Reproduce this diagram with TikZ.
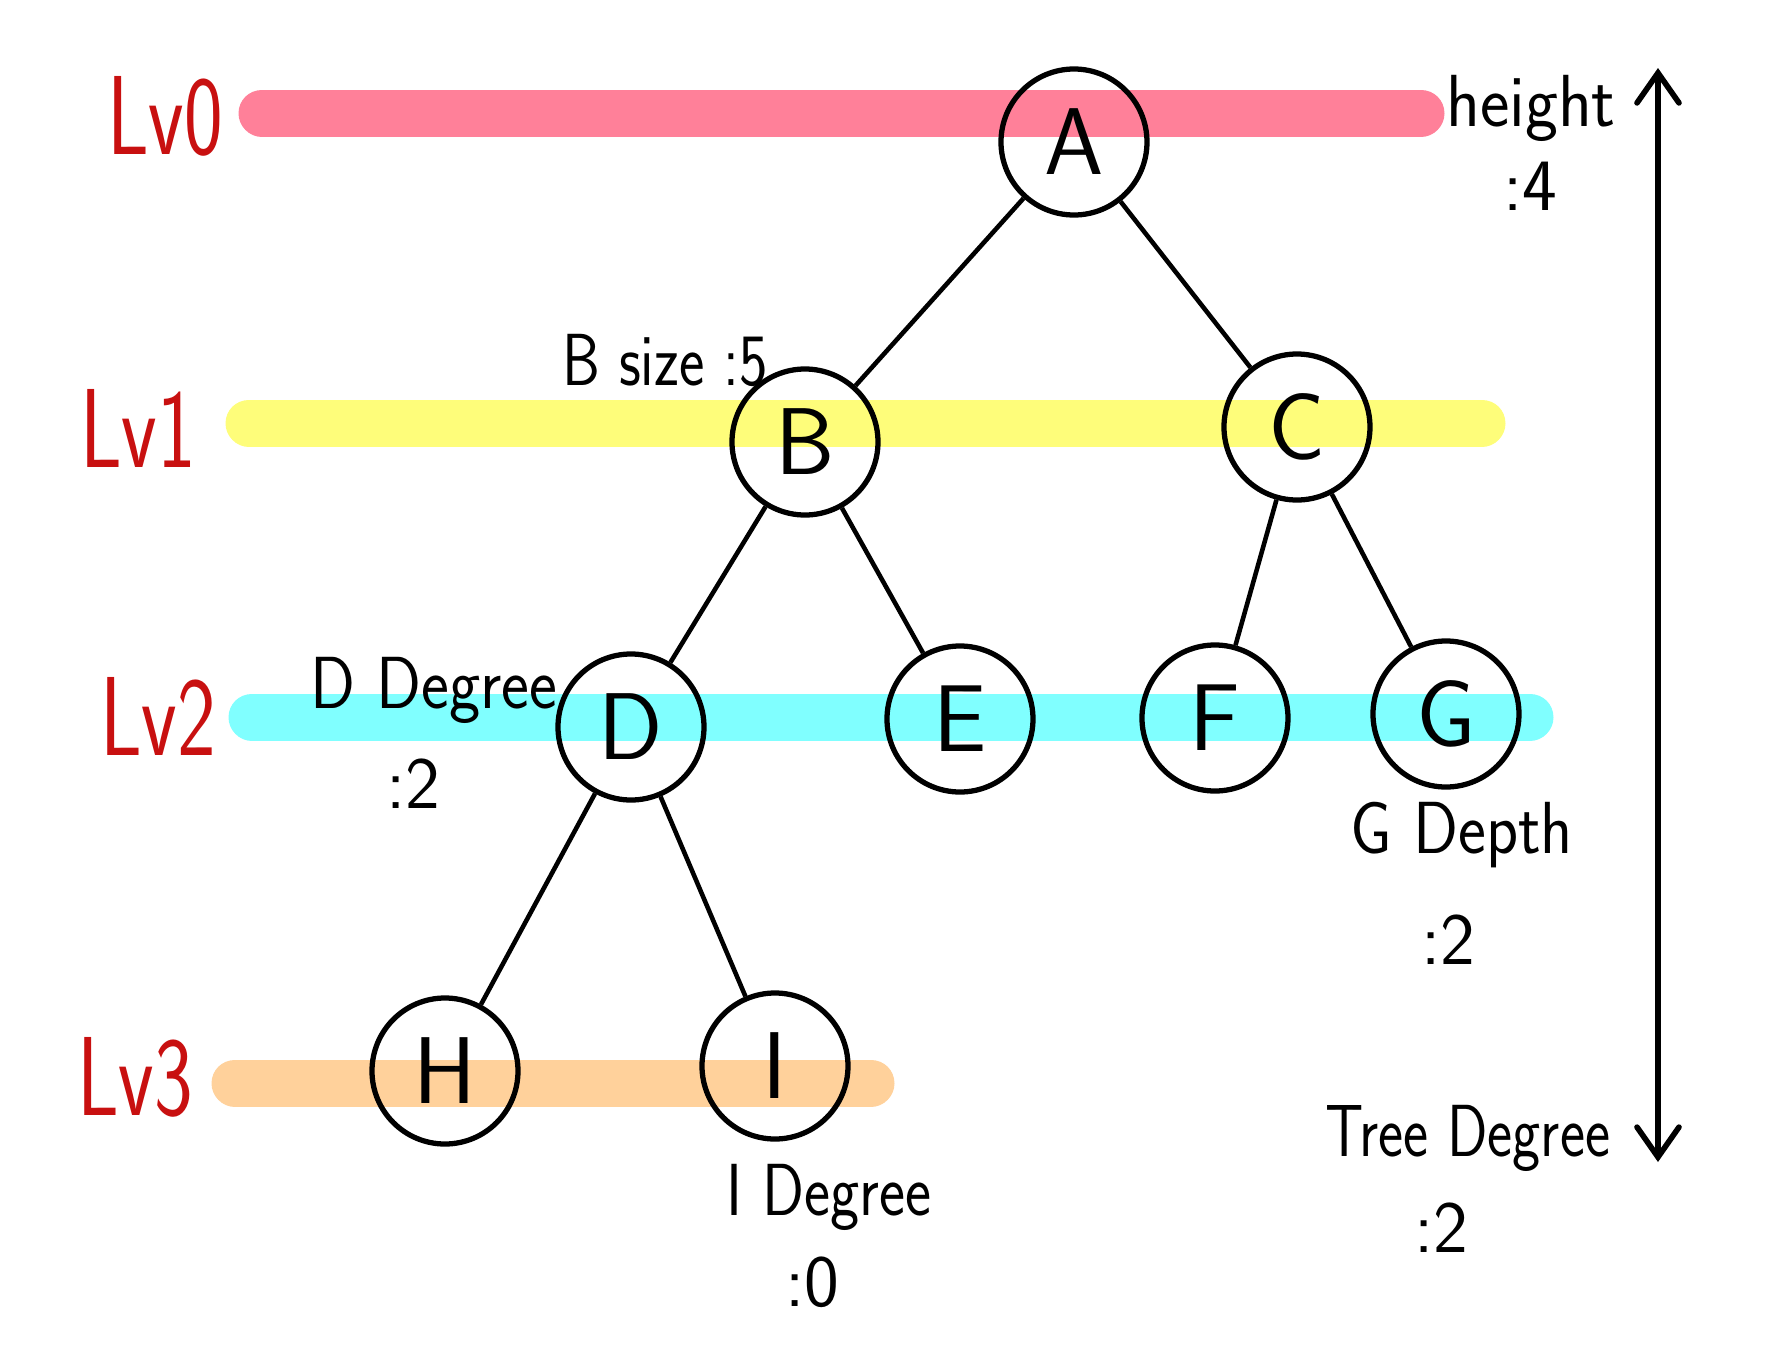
\documentclass[tikz,border=0pt]{standalone}
\usepackage{tikz}
\usetikzlibrary{arrows.meta}
\definecolor{lvpink}{RGB}{255,128,153}
\definecolor{lvyellow}{RGB}{254,253,122}
\definecolor{lvcyan}{RGB}{128,255,255}
\definecolor{lvorange}{RGB}{255,209,155}
\definecolor{lvred}{RGB}{200,16,16}
\newcommand{\narrowtext}[2]{\scalebox{#1}[1]{#2}}

\begin{document}
\begin{tikzpicture}[x=0.1mm, y=-0.1mm, font=\sffamily,
  band/.style={line width=4.7mm, line cap=round},
  vertex/.style={draw, circle, line width=1.5pt, minimum size=14.6mm, inner sep=0pt, font=\sffamily\fontsize{27}{27}\selectfont},
  lvlabel/.style={text=lvred, font=\sffamily\fontsize{32}{32}\selectfont},
  note/.style={font=\sffamily\fontsize{21}{21}\selectfont, inner sep=0pt},
  edge/.style={line width=1.3pt}]
\useasboundingbox (0,0) rectangle (1778,1352);

% level bands
\draw[band, lvpink] (262, 113) -- (1421, 113);
\draw[band, lvyellow] (249, 423) -- (1482, 423);
\draw[band, lvcyan] (252, 717) -- (1530, 717);
\draw[band, lvorange] (235, 1083) -- (871, 1083);

\node[lvlabel] (lv0) at (165, 116) {\narrowtext{0.73}{Lv0}};
\node[lvlabel] (lv1) at (138, 428) {\narrowtext{0.73}{Lv1}};
\node[lvlabel] (lv2) at (158, 716) {\narrowtext{0.73}{Lv2}};
\node[lvlabel] (lv3) at (135, 1077) {\narrowtext{0.73}{Lv3}};

% tree
\node[vertex] (A) at (1074, 142) {A};
\node[vertex] (B) at (805, 442) {B};
\node[vertex] (C) at (1297, 427) {C};
\node[vertex] (D) at (631, 727) {D};
\node[vertex] (E) at (960, 719) {E};
\node[vertex] (F) at (1215, 718) {F};
\node[vertex] (G) at (1446, 714) {G};
\node[vertex] (H) at (445, 1071) {H};
\node[vertex] (I) at (775, 1066) {I};

\draw[edge] (A) -- (B);
\draw[edge] (A) -- (C);
\draw[edge] (B) -- (D);
\draw[edge] (B) -- (E);
\draw[edge] (C) -- (F);
\draw[edge] (C) -- (G);
\draw[edge] (D) -- (H);
\draw[edge] (D) -- (I);

% notes
\node[note] (bsize) at (665, 360) {\narrowtext{0.82}{B size :5}};
\node[note] (ddeg) at (434, 690) {\narrowtext{0.9}{D Degree}};
\node[note] (ddegval) at (413, 784) {:2};
\node[note] (gdepth) at (1462, 835) {\narrowtext{0.9}{G Depth}};
\node[note] (gdepthval) at (1448, 940) {:2};
\node[note] (ideg) at (829, 1197) {\narrowtext{0.84}{I Degree}};
\node[note] (idegval) at (812, 1282) {:0};
\node[note] (height) at (1531, 108) {\narrowtext{0.95}{height}};
\node[note] (heightval) at (1530, 186) {:4};
\node[note] (treedeg) at (1468, 1138) {\narrowtext{0.81}{Tree Degree}};
\node[note] (treedegval) at (1441, 1228) {:2};

% height arrow
\coordinate (top) at (1658, 68);
\coordinate (bot) at (1658, 1162);
\draw[line width=1.6pt, {Straight Barb[length=3mm, width=4.2mm, line cap=round]}-{Straight Barb[length=3mm, width=4.2mm, line cap=round]}] (top) -- (bot);
\end{tikzpicture}
\end{document}
